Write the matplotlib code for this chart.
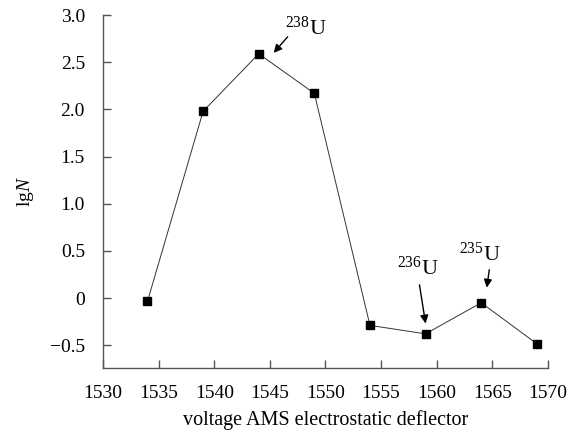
import matplotlib
matplotlib.use('Agg')
import matplotlib.pyplot as plt

# data
voltage = [1534, 1539, 1544, 1549, 1554, 1559, 1564, 1569]
lgN = [-0.035, 1.98, 2.59, 2.17, -0.29, -0.38, -0.05, -0.485]

xticks = [1530, 1535, 1540, 1545, 1550, 1555, 1560, 1565, 1570]
yticks = [-0.5, 0, 0.5, 1.0, 1.5, 2.0, 2.5, 3.0]
ytick_labels = ['\u22120.5', '0', '0.5', '1.0', '1.5', '2.0', '2.5', '3.0']

# isotope labels: (label, text pos, arrow tail, arrow head)
isotopes = [
    (r'$^{238}$U', (1548.25, 2.86), (1546.6, 2.77), (1545.35, 2.60)),
    (r'$^{236}$U', (1558.3, 0.32), (1558.45, 0.14), (1559.0, -0.27)),
    (r'$^{235}$U', (1563.9, 0.46), (1564.73, 0.30), (1564.5, 0.11)),
]

plt.rcParams['font.family'] = ['Liberation Serif']
plt.rcParams['mathtext.fontset'] = 'custom'
plt.rcParams['mathtext.rm'] = 'Liberation Serif'
plt.rcParams['mathtext.it'] = 'Liberation Serif:italic'

fig = plt.figure(figsize=(5.69, 4.32), dpi=100)
ax = fig.add_axes([0.181, 0.1475, 0.782, 0.8175])

ax.plot(voltage, lgN, color='#333333', linewidth=0.7, marker='s',
        markersize=6, markerfacecolor='black', markeredgecolor='black')

ax.set_xlim(1530, 1570)
ax.set_ylim(-0.745, 3.0)
ax.set_xticks(xticks)
ax.set_yticks(yticks)
ax.set_yticklabels(ytick_labels)

for s in ['top', 'right']:
    ax.spines[s].set_visible(False)
for s in ['left', 'bottom']:
    ax.spines[s].set_color('#555555')
    ax.spines[s].set_linewidth(1.0)
ax.tick_params(direction='in', length=6, width=1.0, color='#555555',
               labelsize=14)
ax.tick_params(axis='x', pad=12)
ax.tick_params(axis='y', pad=13)

ax.set_xlabel('voltage AMS electrostatic deflector', fontsize=14.5, labelpad=6)
ax.set_ylabel(r'lg$\it{N}$', fontsize=14, labelpad=10)

arrow = dict(arrowstyle='-|>', color='black', lw=1.0, mutation_scale=12,
             shrinkA=0, shrinkB=0)
for label, tpos, tail, head in isotopes:
    ax.text(tpos[0], tpos[1], label, fontsize=16, ha='center', va='center')
    ax.annotate('', xy=head, xytext=tail, arrowprops=arrow)

fig.savefig('out.png', dpi=100)
